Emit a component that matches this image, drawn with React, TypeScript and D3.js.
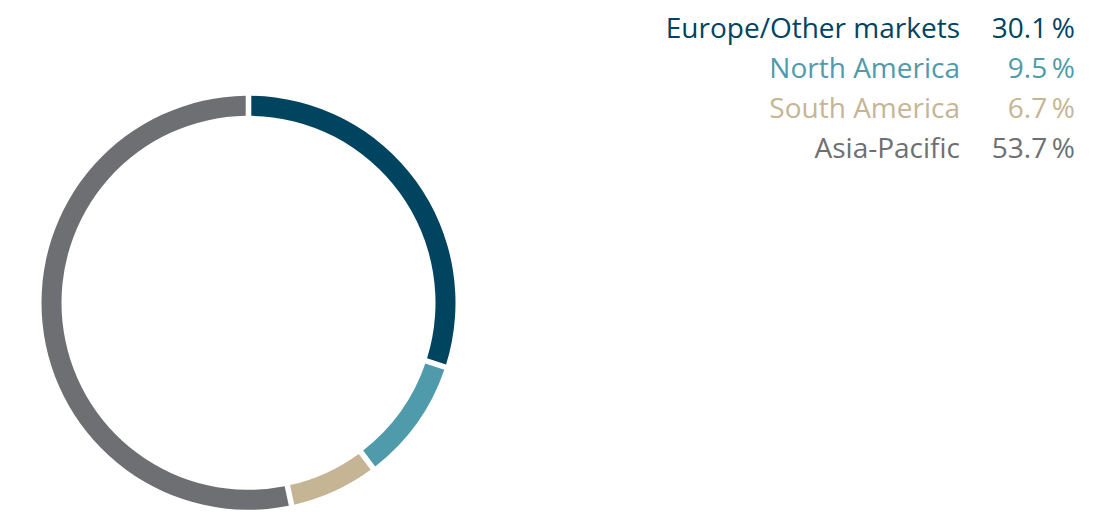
import * as d3 from "d3";
import React from "react";

const regions = ["Europe/Other markets", "North America", "South America", "Asia-Pacific"];
const shares = [30.1, 9.5, 6.7, 53.7];
const shareLabels = ["30.1", "9.5", "6.7", "53.7"];
const colors = ["#00445f", "#4f9bab", "#c6b594", "#6e6f72"];

const width = 1120;
const height = 520;
const cx = 248.5;
const cy = 302.8;
const outerR = 207;
const innerR = 187;

const App: React.FC = () => {
  const pie = d3
    .pie<number>()
    .sort(null)
    .value((d) => d)
    .padAngle(0.02);

  const arc = d3
    .arc<d3.PieArcDatum<number>>()
    .innerRadius(innerR)
    .outerRadius(outerR);

  const arcs = pie(shares);

  // legend rows
  const rowY = d3.scalePoint<string>().domain(regions).range([38, 158]);

  return (
    <svg
      width={width}
      height={height}
      style={{ position: "absolute", left: 0, top: 0, background: "#fff" }}
    >
      <g transform={`translate(${cx},${cy})`}>
        {arcs.map((a, i) => (
          <path key={regions[i]} d={arc(a) || ""} fill={colors[i]} />
        ))}
      </g>
      <g fontFamily="'Open Sans', 'Noto Sans', sans-serif" fontSize={28}>
        {regions.map((r, i) => (
          <g key={r} fill={colors[i]}>
            <text x={960} y={rowY(r)} textAnchor="end">
              {r}
            </text>
            <text x={1075} y={rowY(r)} textAnchor="end">
              {shareLabels[i] + "\u2009%"}
            </text>
          </g>
        ))}
      </g>
    </svg>
  );
};

export default App;
